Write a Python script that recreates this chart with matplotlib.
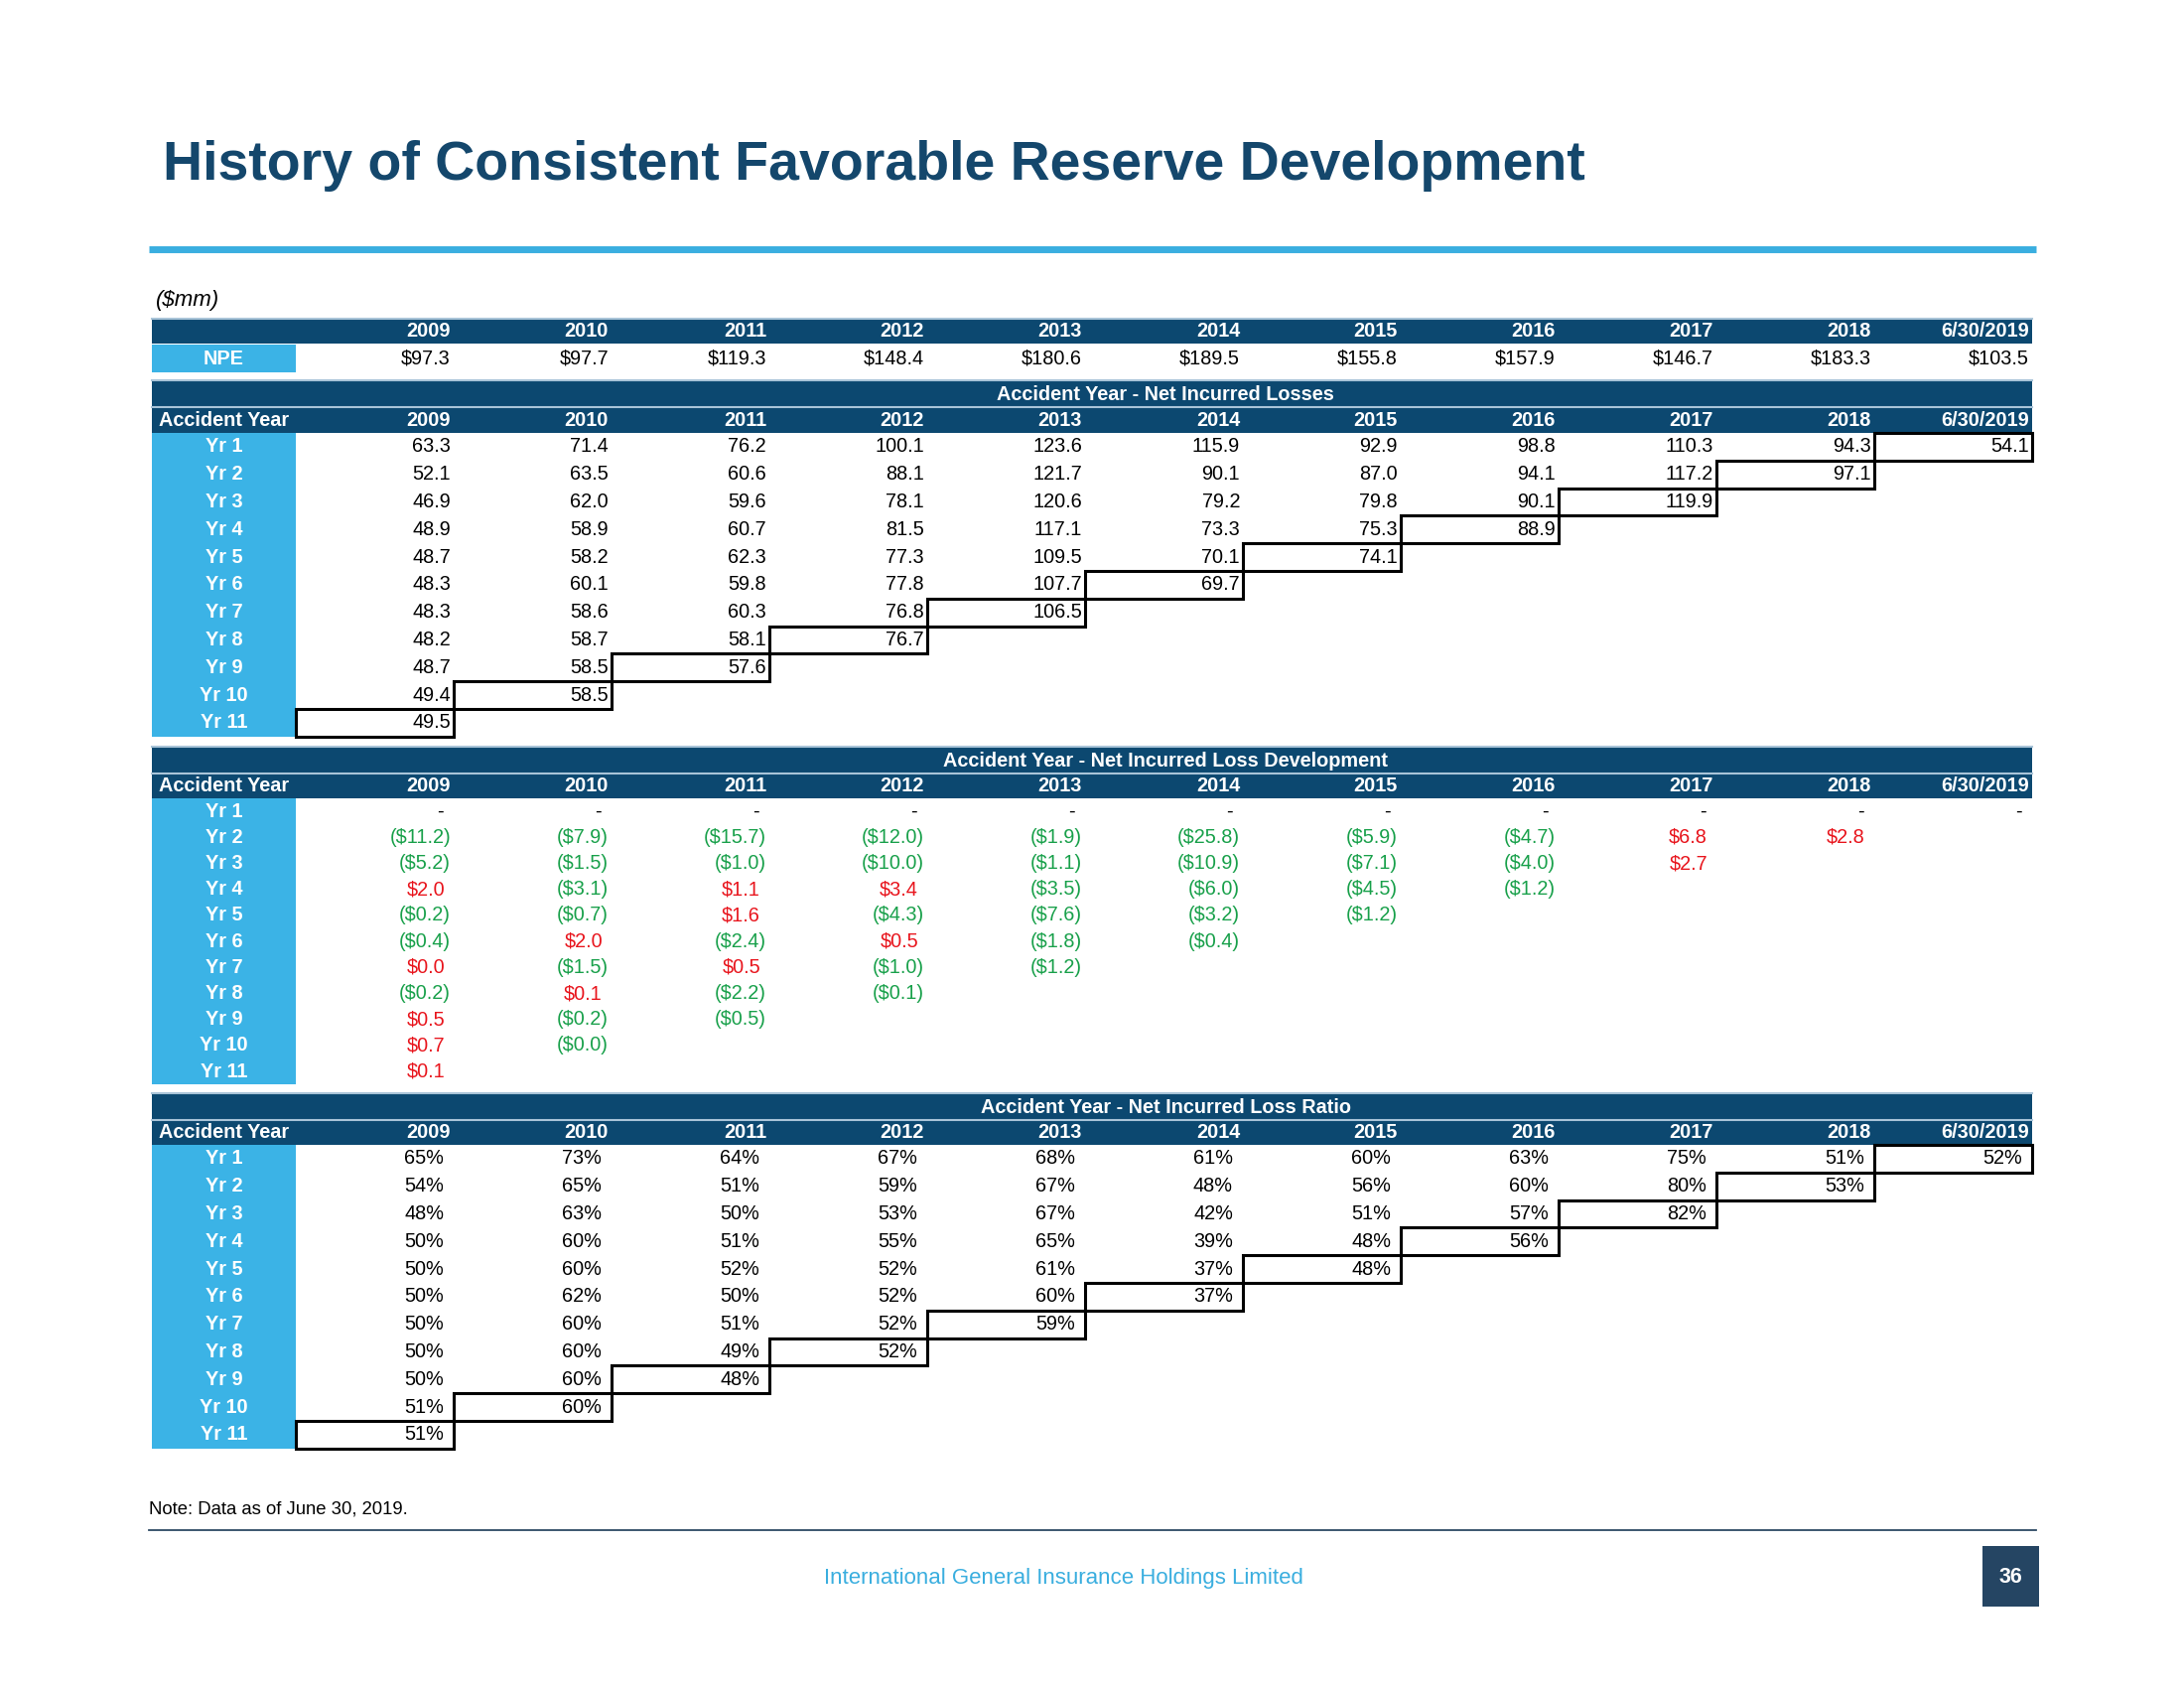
import math
import matplotlib.pyplot as plt
from matplotlib.patches import Rectangle

# column headers and row labels
columns = ['2009', '2010', '2011', '2012', '2013', '2014', '2015', '2016', '2017', '2018', '6/30/2019']
row_labels = ['Yr 1', 'Yr 2', 'Yr 3', 'Yr 4', 'Yr 5', 'Yr 6', 'Yr 7', 'Yr 8', 'Yr 9', 'Yr 10', 'Yr 11']

# net premiums earned
npe = [97.3, 97.7, 119.3, 148.4, 180.6, 189.5, 155.8, 157.9, 146.7, 183.3, 103.5]

# net incurred losses, one list per development year
losses = [
    [63.3, 71.4, 76.2, 100.1, 123.6, 115.9, 92.9, 98.8, 110.3, 94.3, 54.1],
    [52.1, 63.5, 60.6, 88.1, 121.7, 90.1, 87.0, 94.1, 117.2, 97.1],
    [46.9, 62.0, 59.6, 78.1, 120.6, 79.2, 79.8, 90.1, 119.9],
    [48.9, 58.9, 60.7, 81.5, 117.1, 73.3, 75.3, 88.9],
    [48.7, 58.2, 62.3, 77.3, 109.5, 70.1, 74.1],
    [48.3, 60.1, 59.8, 77.8, 107.7, 69.7],
    [48.3, 58.6, 60.3, 76.8, 106.5],
    [48.2, 58.7, 58.1, 76.7],
    [48.7, 58.5, 57.6],
    [49.4, 58.5],
    [49.5],
]

# net incurred loss development (None = "-", -0.0 shows as ($0.0))
development = [
    [None] * 11,
    [-11.2, -7.9, -15.7, -12.0, -1.9, -25.8, -5.9, -4.7, 6.8, 2.8],
    [-5.2, -1.5, -1.0, -10.0, -1.1, -10.9, -7.1, -4.0, 2.7],
    [2.0, -3.1, 1.1, 3.4, -3.5, -6.0, -4.5, -1.2],
    [-0.2, -0.7, 1.6, -4.3, -7.6, -3.2, -1.2],
    [-0.4, 2.0, -2.4, 0.5, -1.8, -0.4],
    [0.0, -1.5, 0.5, -1.0, -1.2],
    [-0.2, 0.1, -2.2, -0.1],
    [0.5, -0.2, -0.5],
    [0.7, -0.0],
    [0.1],
]

# net incurred loss ratio (%)
loss_ratio = [
    [65, 73, 64, 67, 68, 61, 60, 63, 75, 51, 52],
    [54, 65, 51, 59, 67, 48, 56, 60, 80, 53],
    [48, 63, 50, 53, 67, 42, 51, 57, 82],
    [50, 60, 51, 55, 65, 39, 48, 56],
    [50, 60, 52, 52, 61, 37, 48],
    [50, 62, 50, 52, 60, 37],
    [50, 60, 51, 52, 59],
    [50, 60, 49, 52],
    [50, 60, 48],
    [51, 60],
    [51],
]

NAVY = '#0C4870'
LIGHT = '#3BB3E6'
SEP = '#A9C4D8'
GREEN = '#18A04A'
RED = '#E8141C'
FONT = ['Liberation Sans', 'DejaVu Sans']
FS = 14.3

fig = plt.figure(figsize=(22, 17), dpi=100)
ax = fig.add_axes([0, 0, 1, 1])
ax.set_xlim(0, 2200)
ax.set_ylim(1700, 0)
ax.axis('off')

# table geometry (pixels)
x_left = 153
x_lab = 298
cw = 159
x_right = x_lab + cw * len(columns)


def col_right(j):
    return x_lab + cw * (j + 1)


def bar(y0, y1, x0=x_left, x1=x_right, color=NAVY):
    ax.add_patch(Rectangle((x0, y0), x1 - x0, y1 - y0, facecolor=color, edgecolor='none'))


def header_row(y0, y1, label):
    bar(y0, y1)
    ax.plot([x_left, x_right], [y0, y0], color=SEP, lw=1.5)
    yc = (y0 + y1) / 2
    if label:
        ax.text((x_left + x_lab) / 2, yc, label, ha='center', va='center', color='white',
                fontsize=FS, fontweight='bold', family=FONT)
    for j, c in enumerate(columns):
        ax.text(col_right(j) - 3, yc, c, ha='right', va='center', color='white',
                fontsize=FS, fontweight='bold', family=FONT)


def section(bar_top, hdr_top, rows_top, pitch, title, cells, boxed):
    bar(bar_top, hdr_top)
    ax.plot([x_left, x_right], [bar_top, bar_top], color=SEP, lw=1.5)
    ax.text(1174, (bar_top + hdr_top) / 2 + 1, title, ha='center', va='center', color='white',
            fontsize=FS, fontweight='bold', family=FONT)
    header_row(hdr_top, rows_top, 'Accident Year')
    n = len(row_labels)
    bar(rows_top, rows_top + pitch * n, x1=x_lab, color=LIGHT)
    for i, lab in enumerate(row_labels):
        yc = rows_top + pitch * (i + 0.5)
        ax.text((x_left + x_lab) / 2, yc, lab, ha='center', va='center', color='white',
                fontsize=FS, fontweight='bold', family=FONT)
        for j in range(len(cells[i])):
            txt, col, pad = cells[i][j]
            ax.text(col_right(j) - pad, yc, txt, ha='right', va='center', color=col,
                    fontsize=FS, family=FONT)
    if boxed:
        for j in range(len(columns)):
            i = n - 1 - j
            ax.add_patch(Rectangle((col_right(j) - cw, rows_top + pitch * i), cw, pitch,
                                   facecolor='none', edgecolor='black', lw=2.2, zorder=5))


def fmt_dev(v):
    if v is None:
        return ('-', 'black', 10)
    if math.copysign(1, v) < 0:
        return ('(${:.1f})'.format(abs(v)), GREEN, 3)
    return ('${:.1f}'.format(v), RED, 9)


# title and rule
ax.text(164, 181, 'History of Consistent Favorable Reserve Development', ha='left', va='baseline',
        color='#14476C', fontsize=40, fontweight='bold', family=FONT)
ax.plot([150, 2051], [251, 251], color='#3AAEE0', lw=5, solid_capstyle='butt')
ax.text(157, 302, '($mm)', ha='left', va='center', fontsize=16, style='italic', family=FONT)

# NPE block
header_row(321, 346, '')
bar(347, 375, x1=x_lab, color=LIGHT)
ax.text((x_left + x_lab) / 2, 361, 'NPE', ha='center', va='center', color='white',
        fontsize=FS, fontweight='bold', family=FONT)
for j, v in enumerate(npe):
    ax.text(col_right(j) - 3, 361, '${:.1f}'.format(v), ha='right', va='center',
            fontsize=FS, family=FONT)

section(383, 410, 436, 27.8, 'Accident Year - Net Incurred Losses',
        [[('{:.1f}'.format(v), 'black', 3) for v in r] for r in losses], True)
section(752, 779, 804, 26.2, 'Accident Year - Net Incurred Loss Development',
        [[fmt_dev(v) for v in r] for r in development], False)
section(1101, 1128, 1153, 27.8, 'Accident Year - Net Incurred Loss Ratio',
        [[('{}%'.format(v), 'black', 10) for v in r] for r in loss_ratio], True)

# footer
ax.text(150, 1520, 'Note: Data as of June 30, 2019.', ha='left', va='center', fontsize=13.3, family=FONT)
ax.plot([150, 2051], [1541, 1541], color='#2D4A63', lw=1.3)
ax.text(1071, 1590, 'International General Insurance Holdings Limited', ha='center', va='center',
        color='#3AAEDF', fontsize=16, family=FONT)
ax.add_patch(Rectangle((1997, 1557), 57, 61, facecolor='#254563', edgecolor='none'))
ax.text(2025.5, 1588, '36', ha='center', va='center', color='white', fontsize=15.5,
        fontweight='bold', family=FONT)

fig.savefig('out.png', dpi=100)
